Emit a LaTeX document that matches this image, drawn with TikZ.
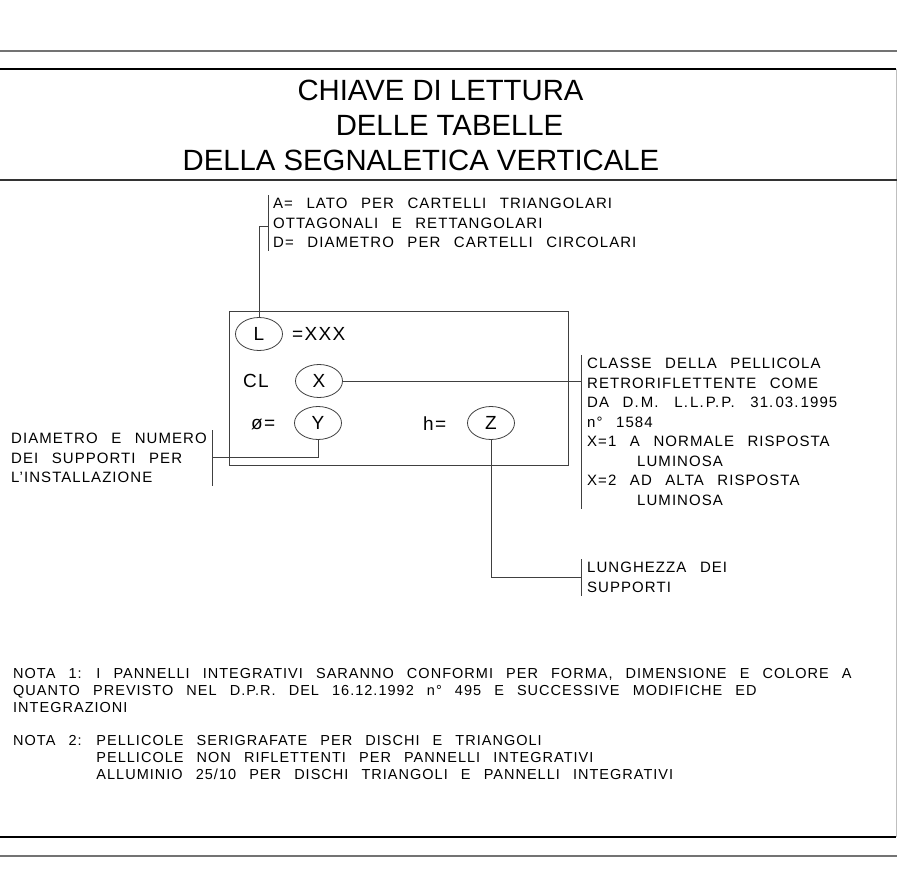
\documentclass[tikz,border=0pt]{standalone}
\usepackage{fontspec}
\setmainfont{Liberation Sans}
\newfontfamily\cadfont[LetterSpace=7,WordSpace=2.6]{Liberation Sans}
\newcommand\dt{.\kern2.2pt}
\usetikzlibrary{shapes.geometric}
\begin{document}
\begin{tikzpicture}[x=1pt,y=-1pt,
  thinln/.style={line width=0.8pt, draw=black!75},
  blk/.style={align=left, inner xsep=0pt, inner ysep=3pt, font=\cadfont\fontsize{15}{19.5}\selectfont, anchor=north west},
  nota/.style={align=left, inner xsep=0pt, inner ysep=3pt, font=\cadfont\fontsize{14.5}{17}\selectfont, anchor=north west},
  oval/.style={ellipse, draw=black!75, line width=0.8pt, minimum width=47pt, minimum height=33pt, inner sep=0pt, font=\cadfont\fontsize{19}{19}\selectfont},
  lbl/.style={font=\cadfont\fontsize{19}{19}\selectfont, inner sep=0pt, anchor=west},
  ttl/.style={font=\fontsize{29.3}{30}\selectfont, inner sep=0pt, anchor=base}]
\useasboundingbox (0,0) rectangle (897,891);
% frame
\draw[line width=1.2pt, black!55] (0,51) -- (897,51);
\draw[line width=2pt] (0,69) -- (896,69);
\draw[line width=1pt, black!25] (896,69) -- (896,837);
\draw[line width=2pt, black!80] (0,180) -- (897,180);
\draw[line width=2pt] (0,837) -- (896,837);
\draw[line width=1.2pt, black!55] (0,856) -- (897,856);
% title
\node[ttl] (t1) at (440.5,100) {CHIAVE DI LETTURA};
\node[ttl] (t2) at (449.5,135) {DELLE TABELLE};
\node[ttl] (t3) at (421,170) {DELLA SEGNALETICA VERTICALE};
% sign box
\node[draw=black!75, line width=0.8pt, minimum width=339pt, minimum height=154pt, inner sep=0pt, anchor=north west] (box) at (229,311) {};
\node[oval] (L) at (259,334) {L};
\node[lbl] (eqx) at (292,334) {=XXX};
\node[lbl] (cl) at (243,381) {CL};
\node[oval] (X) at (319,381) {X};
\node[lbl] (phi) at (251,424) {ø=};
\node[oval] (Y) at (318,423) {Y};
\node[lbl] (heq) at (423,424) {h=};
\node[oval] (Z) at (491,423) {Z};
% text blocks
\node[blk] (ablk) at (273,195) {A= LATO PER CARTELLI TRIANGOLARI\\OTTAGONALI E RETTANGOLARI\\D= DIAMETRO PER CARTELLI CIRCOLARI};
\node[blk] (rblk) at (587,355) {CLASSE DELLA PELLICOLA\\RETRORIFLETTENTE COME\\DA D\dt M\dt\ L\dt L\dt P\dt P\dt\ 31\dt 03\dt 1995\\n° 1584\\X=1 A NORMALE RISPOSTA\\\hspace*{50pt}LUMINOSA\\X=2 AD ALTA RISPOSTA\\\hspace*{50pt}LUMINOSA};
\node[blk] (lblk) at (11,430) {DIAMETRO E NUMERO\\DEI SUPPORTI PER\\L’INSTALLAZIONE};
\node[blk] (zblk) at (587,559) {LUNGHEZZA DEI\\SUPPORTI};
\node[nota] (n1) at (13,665) {NOTA 1: I PANNELLI INTEGRATIVI SARANNO CONFORMI PER FORMA, DIMENSIONE E COLORE A\\QUANTO PREVISTO NEL D.P.R. DEL 16.12.1992 n° 495 E SUCCESSIVE MODIFICHE ED\\INTEGRAZIONI};
\node[nota] (n2) at (13,732) {NOTA 2: PELLICOLE SERIGRAFATE PER DISCHI E TRIANGOLI\\\phantom{NOTA 2: }PELLICOLE NON RIFLETTENTI PER PANNELLI INTEGRATIVI\\\phantom{NOTA 2: }ALLUMINIO 25/10 PER DISCHI TRIANGOLI E PANNELLI INTEGRATIVI};
% bars
\coordinate (abx) at (268,0);
\coordinate (rbx) at (581,0);
\coordinate (lbx) at (212,0);
\coordinate (zbx) at (581,0);
\draw[thinln] (abx |- ablk.north) -- (abx |- ablk.south);
\draw[thinln] (rbx |- rblk.north) -- (rbx |- rblk.south);
\draw[thinln] (lbx |- lblk.north) -- (lbx |- lblk.south);
\draw[thinln] (zbx |- zblk.north) -- (zbx |- zblk.south);
% connectors
\draw[thinln] (L.north) -- (L.north |- 0,226) -- (abx |- 0,226);
\draw[thinln] (X.east) -- (X.east -| rbx);
\draw[thinln] (Y.south) -- (Y.south |- 0,457) -- (lbx |- 0,457);
\draw[thinln] (Z.south) -- (Z.south |- 0,577) -- (zbx |- 0,577);
\end{tikzpicture}
\end{document}
